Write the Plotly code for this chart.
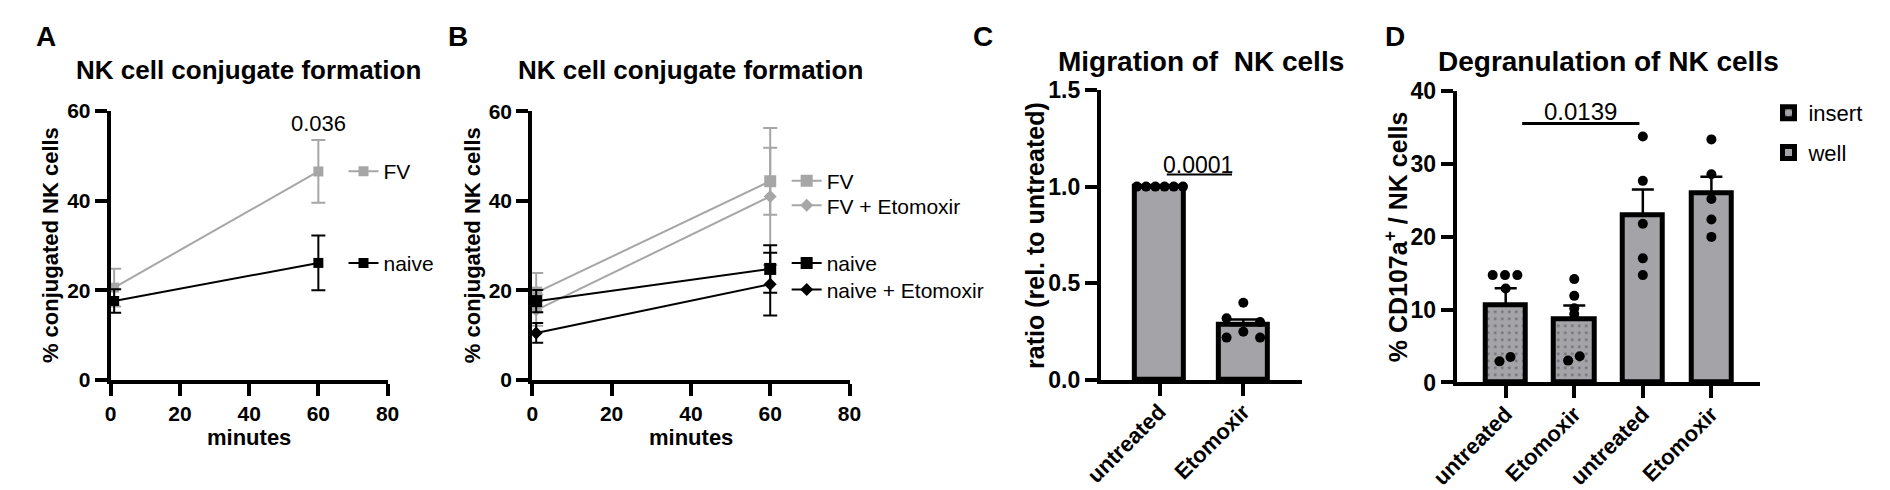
import numpy as np
import plotly.graph_objects as go

FONT = "Liberation Sans, Arial, Helvetica, sans-serif"
W, H = 1890, 490

# ---- panel A: conjugate formation, FV vs naive ----
TIME_MIN = [1, 60]
A_FV_MEAN = [20.6, 46.5]
A_FV_SEM = [4.2, 7.0]
A_NAIVE_MEAN = [17.6, 26.1]
A_NAIVE_SEM = [2.6, 6.1]

# ---- panel B: conjugate formation with Etomoxir ----
B_FV_MEAN = [19.5, 44.4]
B_FV_SEM = [4.4, 7.5]
B_FV_ETO_MEAN = [15.6, 41.0]
B_FV_ETO_SEM = [3.5, 15.3]
B_NAIVE_MEAN = [17.6, 24.8]
B_NAIVE_SEM = [2.5, 5.3]
B_NAIVE_ETO_MEAN = [10.5, 21.4]
B_NAIVE_ETO_SEM = [2.2, 7.0]

# ---- panel C: migration ratio ----
C_GROUPS = ["untreated", "Etomoxir"]
C_UNTREATED = [1.0, 1.0, 1.0, 1.0, 1.0, 1.0]
C_ETOMOXIR = [0.32, 0.40, 0.22, 0.25, 0.30, 0.22]

# ---- panel D: degranulation ----
D_GROUPS = ["untreated", "Etomoxir", "untreated", "Etomoxir"]
D_INSERT_UNTREATED = [14.75, 14.75, 14.75, 12.9, 2.9, 3.5]
D_INSERT_ETOMOXIR = [14.2, 11.9, 10.2, 9.4, 3.0, 3.6]
D_WELL_UNTREATED = [33.8, 27.7, 21.8, 17.05, 14.75]
D_WELL_ETOMOXIR = [33.4, 28.6, 25.2, 22.4, 20.0]

# horizontal spread of the dots inside each bar (style only)
C_DX = [[-0.27, -0.16, -0.05, 0.06, 0.17, 0.28], [-0.2, 0.0, -0.2, 0.0, 0.2, 0.2]]
D_DX = [[-0.19, -0.01, 0.17, 0.0, -0.09, 0.07],
        [0.0, 0.0, 0.0, 0.0, -0.09, 0.08],
        [0.0, 0.0, 0.0, 0.0, 0.0],
        [0.0, 0.0, 0.0, 0.0, 0.0]]

GRAY = "#a6a6a6"
BAR_GRAY = "#a3a3a8"


def fx(p):
    return p / W


def fy(p):
    return 1 - p / H


def mean_sem(vals):
    v = np.asarray(vals, dtype=float)
    return v.mean(), v.std(ddof=1) / np.sqrt(len(v))


def line_trace(mean, sem, color, symbol, size, name, legend, xa, ya):
    return go.Scatter(
        x=TIME_MIN, y=mean, mode="lines+markers", name=name,
        line=dict(color=color, width=2),
        marker=dict(symbol=symbol, size=size, color=color),
        error_y=dict(type="data", array=sem, color=color, thickness=2, width=7),
        legend=legend, xaxis=xa, yaxis=ya, cliponaxis=False,
    )


fig = go.Figure()

# A
fig.add_trace(line_trace(A_FV_MEAN, A_FV_SEM, GRAY, "square", 10, "FV", "legend", "x", "y"))
fig.add_trace(line_trace(A_NAIVE_MEAN, A_NAIVE_SEM, "black", "square", 10, "naive", "legend2", "x", "y"))

# B
fig.add_trace(line_trace(B_FV_MEAN, B_FV_SEM, GRAY, "square", 12, "FV", "legend3", "x2", "y2"))
fig.add_trace(line_trace(B_FV_ETO_MEAN, B_FV_ETO_SEM, GRAY, "diamond", 10, "FV + Etomoxir", "legend4", "x2", "y2"))
fig.add_trace(line_trace(B_NAIVE_MEAN, B_NAIVE_SEM, "black", "square", 12, "naive", "legend5", "x2", "y2"))
fig.add_trace(line_trace(B_NAIVE_ETO_MEAN, B_NAIVE_ETO_SEM, "black", "diamond", 10, "naive + Etomoxir", "legend6", "x2", "y2"))

# C
c_stats = [mean_sem(g) for g in (C_UNTREATED, C_ETOMOXIR)]
fig.add_trace(go.Bar(
    x=[0, 1], y=[s[0] for s in c_stats], width=0.585, showlegend=False,
    marker=dict(color=BAR_GRAY, line=dict(color="black", width=5)),
    error_y=dict(type="data", symmetric=False, array=[s[1] for s in c_stats],
                 arrayminus=[0, 0], color="black", thickness=2.5, width=14),
    xaxis="x3", yaxis="y3",
))
for i, vals in enumerate((C_UNTREATED, C_ETOMOXIR)):
    fig.add_trace(go.Scatter(
        x=[i + d for d in C_DX[i]], y=vals, mode="markers", showlegend=False,
        marker=dict(color="black", size=10), xaxis="x3", yaxis="y3", cliponaxis=False,
    ))

# D
d_groups = [D_INSERT_UNTREATED, D_INSERT_ETOMOXIR, D_WELL_UNTREATED, D_WELL_ETOMOXIR]
d_stats = [mean_sem(g) for g in d_groups]
for name, idx, pattern, leg in (("insert", [0, 1], dict(shape=".", fgcolor="#3a3a3a", size=7, solidity=0.12), "legend7"),
                                ("well", [2, 3], dict(shape=""), "legend8")):
    fig.add_trace(go.Bar(
        x=idx, y=[d_stats[i][0] for i in idx], width=0.585, name=name, legend=leg,
        marker=dict(color=BAR_GRAY, line=dict(color="black", width=5), pattern=pattern),
        error_y=dict(type="data", symmetric=False, array=[d_stats[i][1] for i in idx],
                     arrayminus=[0, 0], color="black", thickness=2.5, width=11),
        xaxis="x4", yaxis="y4",
    ))
for i, vals in enumerate(d_groups):
    fig.add_trace(go.Scatter(
        x=[i + d for d in D_DX[i]], y=vals, mode="markers", showlegend=False,
        marker=dict(color="black", size=10), xaxis="x4", yaxis="y4", cliponaxis=False,
    ))


def axis(domain, rng, tickvals, size, **kw):
    d = dict(
        domain=domain, range=rng, tickvals=tickvals, showline=True, linewidth=4,
        linecolor="black", ticks="outside", ticklen=12, tickwidth=4, tickcolor="black",
        showgrid=False, zeroline=False, fixedrange=True,
        tickfont=dict(family=FONT, size=size, color="black", weight="bold"),
    )
    d.update(kw)
    return d


def legend_at(px, py, size):
    return dict(x=fx(px), y=fy(py), xanchor="left", yanchor="middle",
                bgcolor="rgba(0,0,0,0)", borderwidth=0,
                font=dict(family=FONT, size=size, color="black"))


layout = dict(
    width=W, height=H, margin=dict(l=0, r=0, t=0, b=0),
    paper_bgcolor="white", plot_bgcolor="white", showlegend=True,
    font=dict(family=FONT, color="black"),
    xaxis=axis([fx(77.3), fx(360)], [0, 80], [0, 20, 40, 60, 80], 21, anchor="y"),
    yaxis=axis([fy(379), fy(95)], [0, 60], [0, 20, 40, 60], 21, anchor="x"),
    xaxis2=axis([fx(507.7), fx(831.7)], [0, 80], [0, 20, 40, 60, 80], 21, anchor="y2"),
    yaxis2=axis([fy(379), fy(95.5)], [0, 60], [0, 20, 40, 60], 21, anchor="x2"),
    xaxis3=axis([fx(1088.3), fx(1293.7)], [-0.7, 1.7], [0, 1], 22, anchor="y3",
                ticktext=C_GROUPS, tickangle=-45, ticklabelstandoff=-6),
    yaxis3=axis([fy(379.3), fy(72.7)], [0, 1.5], [0, 0.5, 1.0, 1.5], 23, anchor="x3",
                tickformat=".1f"),
    xaxis4=axis([fx(1451.7), fx(1761.7)], [-0.714, 3.714], [0, 1, 2, 3], 22, anchor="y4",
                ticktext=D_GROUPS, tickangle=-45, ticklabelstandoff=-6),
    yaxis4=axis([fy(381.7), fy(74.3)], [0, 40], [0, 10, 20, 30, 40], 23, anchor="x4"),
    legend=legend_at(315, 159, 21),
    legend2=legend_at(315, 256, 21),
    legend3=legend_at(767.5, 169, 21),
    legend4=legend_at(767.5, 195, 21),
    legend5=legend_at(767.5, 256, 21),
    legend6=legend_at(767.5, 284, 21),
    legend7=legend_at(1770, 97, 22),
    legend8=legend_at(1770, 139, 22),
    bargap=0,
)
fig.update_layout(**layout)

ann = []


def paper_text(text, px, py, size, bold=True, angle=0):
    ann.append(dict(text=text, x=fx(px), y=fy(py), xref="paper", yref="paper",
                    xanchor="center", yanchor="middle", showarrow=False, textangle=angle,
                    font=dict(family=FONT, size=size, color="black",
                              weight="bold" if bold else "normal")))


# panel letters
for letter, px in (("A", 11), ("B", 432), ("C", 968), ("D", 1389)):
    paper_text(letter, px, 16, 28)

# titles
paper_text("NK cell conjugate formation", 218.5, 52, 26)
paper_text("NK cell conjugate formation", 669.7, 52, 26)
paper_text("Migration of\u00a0 NK cells", 1191, 43, 28)
paper_text("Degranulation of NK cells", 1606.7, 43, 28)

# axis titles
paper_text("% conjugated NK cells", 16, 237, 22, angle=-90)
paper_text("% conjugated NK cells", 447, 237, 22, angle=-90)
paper_text("minutes", 218.5, 440, 22)
paper_text("minutes", 669.7, 440, 22)
paper_text("ratio (rel. to untreated)", 1021, 226, 25, angle=-90)
paper_text("% CD107a<sup>+</sup> / NK cells", 1390, 228, 25, angle=-90)

# p-values
ann.append(dict(text="0.036", x=60, y=57.3, xref="x", yref="y", showarrow=False,
                xanchor="center", yanchor="middle", font=dict(family=FONT, size=22, color="black")))
ann.append(dict(text="0.0001", x=0.456, y=1.11, xref="x3", yref="y3", showarrow=False,
                xanchor="center", yanchor="middle", font=dict(family=FONT, size=23, color="black")))
ann.append(dict(text="0.0139", x=1.09, y=37.3, xref="x4", yref="y4", showarrow=False,
                xanchor="center", yanchor="middle", font=dict(family=FONT, size=24, color="black")))

fig.update_layout(
    annotations=ann,
    shapes=[
        dict(type="line", xref="x3", yref="y3", x0=0.087, x1=0.865, y0=1.062, y1=1.062,
             line=dict(color="black", width=2)),
        dict(type="line", xref="x4", yref="y4", x0=0.24, x1=1.95, y0=35.6, y1=35.6,
             line=dict(color="black", width=3)),
    ],
)

fig.write_html("out.html")
